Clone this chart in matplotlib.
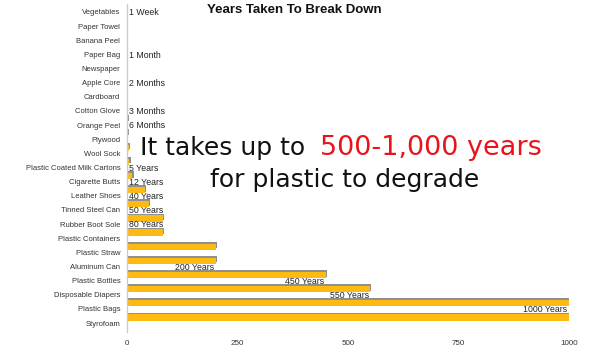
import matplotlib
matplotlib.use('Agg')
import matplotlib.pyplot as plt
import matplotlib.patheffects as pe

categories = ["Vegetables", "Paper Towel", "Banana Peel", "Paper Bag", "Newspaper",
              "Apple Core", "Cardboard", "Cotton Glove", "Orange Peel", "Plywood",
              "Wool Sock", "Plastic Coated Milk Cartons", "Cigarette Butts",
              "Leather Shoes", "Tinned Steel Can", "Rubber Boot Sole",
              "Plastic Containers", "Plastic Straw", "Aluminum Can", "Plastic Bottles",
              "Disposable Diapers", "Plastic Bags", "Styrofoam"]
years = [0.02, 0.05, 0.1, 0.08, 0.12, 0.17, 0.2, 0.25, 0.5, 2, 3, 5, 12,
         40, 50, 80, 80, 200, 200, 450, 550, 1000, 1000]
value_labels = ["1 Week", "", "", "1 Month", "", "2 Months", "", "3 Months",
                "6 Months", "", "", "5 Years", "12 Years", "40 Years", "50 Years",
                "80 Years", "", "", "200 Years", "450 Years", "550 Years",
                "1000 Years", ""]
xticks = [0, 250, 500, 750, 1000]

font = 'Liberation Sans'
fig = plt.figure(figsize=(6, 3.5), dpi=100)
ax = fig.add_axes([0.212, 0.051, 0.736, 0.937])
n = len(categories)
ypos = [n - 1 - i for i in range(n)]
bar_y = [y + 0.4 for y in ypos]
bars = ax.barh(bar_y, years, height=0.45, color='#FDBB12', zorder=2)
for b in bars:
    b.set_path_effects([pe.SimplePatchShadow(offset=(0.8, 1.2), shadow_rgbFace='#8a8a8a', alpha=0.95),
                        pe.Normal()])

for y, v, lab in zip(ypos, years, value_labels):
    if not lab:
        continue
    if v >= 100:
        ax.text(v - 3, y - 0.05, lab, ha='right', va='center', fontsize=6.3,
                family=font, color='#222222', zorder=3)
    else:
        ax.text(4, y - 0.05, lab, ha='left', va='center', fontsize=6.3,
                family=font, color='#222222', zorder=3)

ax.set_xlim(0, 1000)
ax.set_ylim(-0.64, n - 1 + 0.55)
ax.set_yticks(ypos)
ax.set_yticklabels(categories, fontsize=5.5, family=font, color='#333333')
ax.set_xticks(xticks)
ax.set_xticklabels([str(t) for t in xticks], fontsize=5.8, family=font, color='#333333')
ax.tick_params(axis='both', length=0)
ax.tick_params(axis='y', pad=5)
ax.tick_params(axis='x', pad=6)
for s in ['top', 'right', 'bottom']:
    ax.spines[s].set_visible(False)
ax.spines['left'].set_color('#cccccc')
ax.spines['left'].set_linewidth(1)

fig.text(0.49, 0.971, "Years Taken To Break Down", ha='center', va='center',
         fontsize=9.5, fontweight='bold', family=font, color='#111111')

fig.text(0.522, 0.577, "It takes up to ", ha='right', va='center', fontsize=18,
         family='DejaVu Sans', color='#111111')
fig.text(0.533, 0.577, "500-1,000 years", ha='left', va='center', fontsize=19.5,
         family='DejaVu Sans', color='#e8141c')
fig.text(0.575, 0.486, "for plastic to degrade", ha='center', va='center', fontsize=18,
         family='DejaVu Sans', color='#111111')

fig.savefig('out.png', dpi=100)
